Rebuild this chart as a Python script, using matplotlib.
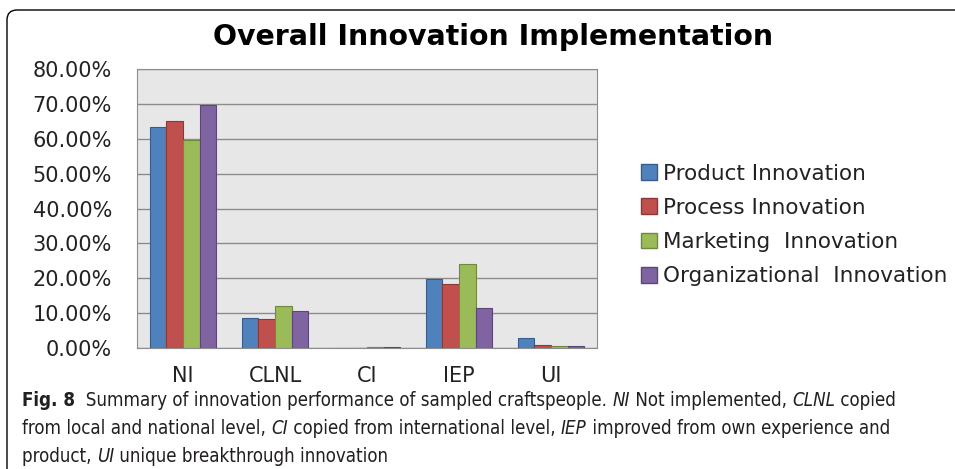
import matplotlib
matplotlib.use("Agg")
import matplotlib.pyplot as plt
from matplotlib import font_manager
import numpy as np
from matplotlib.patches import FancyBboxPatch, Patch

# data (percent)
categories = ["NI", "CLNL", "CI", "IEP", "UI"]
series_names = ["Product Innovation", "Process Innovation",
                "Marketing  Innovation", "Organizational  Innovation"]
product = [63.5, 8.5, 0.0, 19.9, 2.8]
process = [65.2, 8.2, 0.0, 18.4, 1.0]
marketing = [59.7, 11.9, 0.3, 24.1, 0.7]
organizational = [69.8, 10.5, 0.3, 11.4, 0.7]
yticks = [0, 10, 20, 30, 40, 50, 60, 70, 80]

colors = ["#4F81BD", "#C0504D", "#9BBB59", "#8064A2"]
edges = ["#385D8A", "#8C3836", "#71893F", "#5C4776"]

fig = plt.figure(figsize=(9.55, 4.69), dpi=100)

# card border (open on right/bottom, rounded top-left corner)
border = FancyBboxPatch((0.07, -1.0), 12, 5.59,
                        boxstyle="round,pad=0,rounding_size=0.1",
                        transform=fig.dpi_scale_trans, fill=False,
                        edgecolor="black", linewidth=1.0)
fig.patches.append(border)

ax = fig.add_axes([137/955, 1-348/469, 460/955, 279/469])
ax.set_facecolor("#e7e7e7")

x = np.arange(len(categories))
w = 0.18
all_series = [product, process, marketing, organizational]
for i, vals in enumerate(all_series):
    ax.bar(x + (i - 1.5) * w, vals, w, color=colors[i], edgecolor=edges[i],
           linewidth=0.8, zorder=3, label=series_names[i])

ax.set_xlim(-0.5, 4.5)
ax.set_ylim(0, 80)
ax.set_yticks(yticks)
ax.set_yticklabels([f"{v:.2f}%" for v in yticks])
ax.set_xticks(x)
ax.set_xticklabels(categories)
ax.yaxis.grid(True, color="#8c8c8c", linewidth=1.0, zorder=0)
ax.set_axisbelow(True)
for s in ax.spines.values():
    s.set_color("#8c8c8c")
ax.tick_params(length=0, labelsize=15, colors="#222222")
ax.tick_params(axis="y", pad=18)
ax.tick_params(axis="x", pad=13)

fig.canvas.draw()
renderer = fig.canvas.get_renderer()

# title, sized to span about the same width as in the figure
title = fig.text(493/955, 1-37/469, "Overall Innovation Implementation", ha="center",
                 va="center", fontsize=20, fontweight="bold", family="DejaVu Sans")
tw = title.get_window_extent(renderer=renderer).width
title.set_fontsize(min(21, 20 * 561 / tw))

handles = [Patch(facecolor=colors[i], edgecolor=edges[i]) for i in range(4)]
fig.legend(handles, series_names, loc="upper left",
           bbox_to_anchor=(632/955, 1-155/469), frameon=False, fontsize=15.5,
           handlelength=0.75, handleheight=0.75, handletextpad=0.3,
           labelspacing=0.66, borderaxespad=0, labelcolor="#222222")

# caption: prefer a narrow font if one is installed
cap_family = ["Lato", "DejaVu Sans"]
cap_stretch = "normal"
names = {f.name for f in font_manager.fontManager.ttflist}
narrow = [f for f in font_manager.fontManager.ttflist
          if f.stretch in ("condensed", "semi-condensed") or "Narrow" in f.name
          or "Condensed" in f.name]
if "Liberation Sans Narrow" in names:
    cap_family = ["Liberation Sans Narrow", "DejaVu Sans"]
elif narrow:
    cap_family = [narrow[0].name, "DejaVu Sans"]
    cap_stretch = narrow[0].stretch

lines = [
    [("Fig. 8", "bold"), ("  Summary of innovation performance of sampled craftspeople. ", "normal"),
     ("NI", "italic"), (" Not implemented, ", "normal"), ("CLNL", "italic"), (" copied", "normal")],
    [("from local and national level, ", "normal"), ("CI", "italic"),
     (" copied from international level, ", "normal"), ("IEP", "italic"),
     (" improved from own experience and", "normal")],
    [("product, ", "normal"), ("UI", "italic"), (" unique breakthrough innovation", "normal")],
]


def draw_line(line, ypix, size):
    xpix = 22
    texts = []
    for txt, style in line:
        kw = {"fontweight": "bold"} if style == "bold" else {}
        if style == "italic":
            kw["fontstyle"] = "italic"
        t = fig.text(xpix/955, 1-ypix/469, txt, ha="left", va="center",
                     fontsize=size, family=cap_family, fontstretch=cap_stretch,
                     color="#231f20", **kw)
        xpix += t.get_window_extent(renderer=renderer).width
        texts.append(t)
    return xpix, texts


# fit caption size so the first line ends where it does in the figure
end, tmp = draw_line(lines[0], 400, 14)
for t in tmp:
    t.remove()
cap_size = 14 * (906 - 22) / (end - 22)

for line, ypix in zip(lines, [400, 428, 456]):
    draw_line(line, ypix, cap_size)

fig.savefig("out.png", dpi=100)
